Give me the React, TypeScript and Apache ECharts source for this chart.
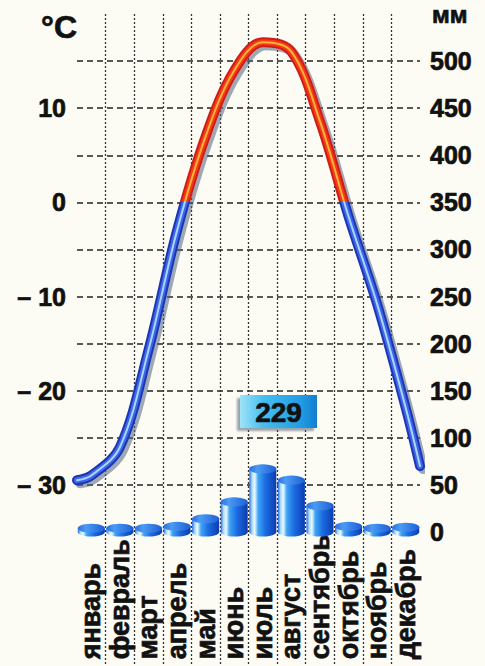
import React, { useEffect, useRef } from "react";
import * as echarts from "echarts";

// ---- data ----
const MONTHS = [
  "январь", "февраль", "март", "апрель", "май", "июнь",
  "июль", "август", "сентябрь", "октябрь", "ноябрь", "декабрь",
];
// monthly precipitation, mm
const PRECIP_MM = [4, 4, 4, 6, 14, 32, 67, 55, 28, 6, 4, 5];
// monthly mean temperature, °C (at month centres)
const TEMP_C = [-29, -26, -15.7, -3, 7, 14, 17, 16, 8.6, -1.5, -10.8, -21.8];
// curve ends at the left and right edges of the chart
const TEMP_EDGE_START = -29.5;
const TEMP_EDGE_END = -28;
// tick labels
const TEMP_TICKS = [10, 0, -10, -20, -30];
const PRECIP_TICKS = [0, 50, 100, 150, 200, 250, 300, 350, 400, 450, 500];
const ANNUAL_TOTAL = 229;

const FONT = '"Liberation Sans", Arial, Helvetica, sans-serif';

export default function App() {
  const ref = useRef<HTMLDivElement>(null);

  useEffect(() => {
    document.body.style.margin = "0";
    if (!ref.current) return;
    const chart = echarts.init(ref.current, null, { renderer: "svg" });

    const lineData: [number, number][] = [[0, TEMP_EDGE_START]];
    TEMP_C.forEach((t, i) => lineData.push([i + 0.5, t]));
    lineData.push([12, TEMP_EDGE_END]);

    const barGrad = new echarts.graphic.LinearGradient(0, 0, 1, 0, [
      { offset: 0, color: "#2a64dc" },
      { offset: 0.1, color: "#a8dcff" },
      { offset: 0.2, color: "#eef9ff" },
      { offset: 0.33, color: "#3ea4f4" },
      { offset: 0.6, color: "#1c6be2" },
      { offset: 1, color: "#0c3cb0" },
    ]);
    const capGrad = new echarts.graphic.LinearGradient(0, 0, 1, 0, [
      { offset: 0, color: "#2a6fe4" },
      { offset: 0.3, color: "#4b9af2" },
      { offset: 1, color: "#1d5fd6" },
    ]);
    const boxGrad = new echarts.graphic.LinearGradient(0, 0, 1, 0, [
      { offset: 0, color: "#9fe3f8" },
      { offset: 0.3, color: "#46bff0" },
      { offset: 0.8, color: "#1f9ce2" },
      { offset: 1, color: "#157cd0" },
    ]);

    const lineLayer = (width: number, shadow: boolean) => ({
      type: "line",
      xAxisIndex: 1,
      yAxisIndex: 1,
      data: lineData,
      smooth: 0.35,
      symbol: "none",
      z: 5,
      lineStyle: {
        width,
        cap: "round",
        join: "round",
        ...(shadow
          ? {
              shadowColor: "rgba(80,100,125,0.55)",
              shadowBlur: 1,
              shadowOffsetX: 3,
              shadowOffsetY: 3,
            }
          : {}),
      },
    });

    const vm = (seriesIndex: number, blue: string, red: string) => ({
      type: "piecewise",
      show: false,
      seriesIndex,
      dimension: 1,
      pieces: [
        { gte: -60, lt: 0, color: blue },
        { gte: 0, lte: 40, color: red },
      ],
    });

    const T = "rgba(0,0,0,0)";
    const G = "#222";
    // horizontal grid lines at -150..550 mm, only 50..500 are drawn
    const hColors = [T, T, T, T, G, G, G, G, G, G, G, G, G, G, T];
    const V = "#333";
    // vertical lines at month boundaries 0..12, edges not drawn
    const vColors = [T, V, V, V, V, V, V, V, V, V, V, V, T];

    const boldText = {
      fontWeight: "bold",
      fontFamily: FONT,
      color: "#111",
      textBorderColor: "#111",
      textBorderWidth: 0.7,
    };

    const option = {
      animation: false,
      backgroundColor: "#fdfcf4",
      textStyle: { fontFamily: FONT },
      grid: {
        left: 77,
        right: 65,
        top: 14,
        height: 659.3,
        outerBoundsMode: "none",
        containLabel: false,
      },
      xAxis: [
        {
          type: "category",
          data: MONTHS,
          boundaryGap: true,
          offset: -14,
          axisLine: { show: false },
          axisTick: { show: false },
          axisLabel: {
            interval: 0,
            rotate: 90,
            align: "left",
            verticalAlign: "middle",
            margin: 0,
            fontSize: 27,
            ...boldText,
          },
          splitLine: { show: false },
        },
        {
          type: "value",
          min: 0,
          max: 12,
          interval: 1,
          show: true,
          axisLine: { show: false },
          axisTick: { show: false },
          axisLabel: { show: false },
          splitLine: {
            show: true,
            lineStyle: { color: vColors, width: 1.3, type: [2, 2] },
          },
        },
      ],
      yAxis: [
        {
          type: "value",
          position: "right",
          min: -150,
          max: 550,
          interval: 50,
          axisLine: { show: false },
          axisTick: { show: false },
          axisLabel: {
            margin: 10,
            fontSize: 25,
            ...boldText,
            formatter: (v: number) => (PRECIP_TICKS.includes(v) ? String(v) : ""),
          },
          splitLine: {
            show: true,
            lineStyle: { color: hColors, width: 1.6, type: [6, 4] },
          },
        },
        {
          type: "value",
          position: "left",
          min: -50,
          max: 20,
          interval: 5,
          name: "°C",
          nameLocation: "end",
          nameGap: -13,
          nameTextStyle: {
            align: "right",
            verticalAlign: "middle",
            fontSize: 32,
            ...boldText,
          },
          axisLine: { show: false },
          axisTick: { show: false },
          axisLabel: {
            margin: 11,
            fontSize: 25,
            ...boldText,
            formatter: (v: number) =>
              TEMP_TICKS.includes(v) ? (v < 0 ? "– " + Math.abs(v) : String(v)) : "",
          },
          splitLine: { show: false },
        },
      ],
      visualMap: [
        vm(3, "#1b36b5", "#cf1d12"),
        vm(4, "#3a68e8", "#f2391c"),
        vm(5, "#aed3ff", "#ffb530"),
      ],
      series: [
        {
          type: "bar",
          xAxisIndex: 0,
          yAxisIndex: 0,
          data: PRECIP_MM,
          barWidth: 27,
          itemStyle: { color: barGrad },
          z: 2,
        },
        {
          type: "pictorialBar",
          xAxisIndex: 0,
          yAxisIndex: 0,
          data: PRECIP_MM,
          symbol: "circle",
          symbolSize: [27, 9],
          symbolPosition: "start",
          symbolOffset: [0, "50%"],
          itemStyle: { color: barGrad },
          z: 1,
        },
        {
          type: "pictorialBar",
          xAxisIndex: 0,
          yAxisIndex: 0,
          data: PRECIP_MM,
          symbol: "circle",
          symbolSize: [27, 9],
          symbolPosition: "end",
          symbolOffset: [0, "-50%"],
          itemStyle: { color: capGrad },
          z: 3,
        },
        lineLayer(10, true),
        lineLayer(6, false),
        lineLayer(2, false),
      ],
      graphic: [
        {
          type: "text",
          x: 432,
          y: 14,
          style: {
            text: "мм",
            font: 'bold 24px "Liberation Sans", Arial, sans-serif',
            fill: "#111",
            stroke: "#111",
            lineWidth: 0.7,
            align: "left",
            verticalAlign: "middle",
          },
        },
        {
          type: "rect",
          shape: { x: 240, y: 395, width: 77, height: 33 },
          style: {
            fill: boxGrad,
            shadowColor: "rgba(70,90,110,0.55)",
            shadowBlur: 2,
            shadowOffsetX: -3,
            shadowOffsetY: 3,
          },
          z: 10,
        },
        {
          type: "text",
          x: 278.5,
          y: 412,
          style: {
            text: String(ANNUAL_TOTAL),
            font: 'bold 28px "Liberation Sans", Arial, sans-serif',
            fill: "#111",
            stroke: "#111",
            lineWidth: 0.7,
            align: "center",
            verticalAlign: "middle",
          },
          z: 11,
        },
      ],
    };

    chart.setOption(option as any);
    return () => chart.dispose();
  }, []);

  return (
    <div
      ref={ref}
      style={{ position: "fixed", left: 0, top: 0, width: 485, height: 666 }}
    />
  );
}
